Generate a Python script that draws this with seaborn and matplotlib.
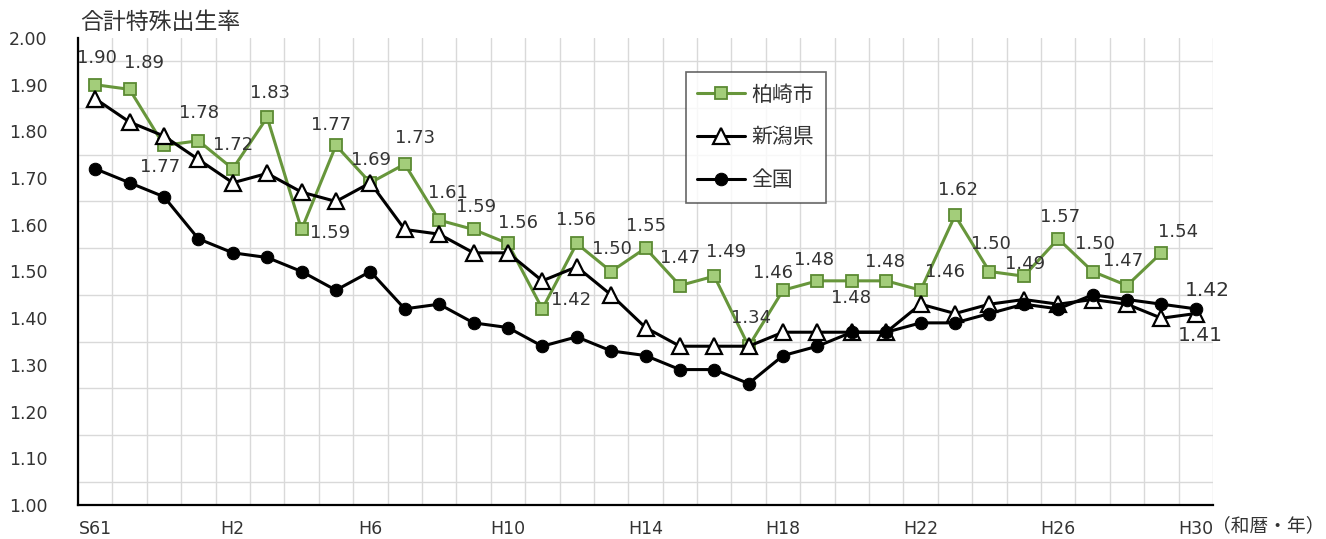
import numpy as np
import matplotlib
matplotlib.use("Agg")
import matplotlib.pyplot as plt
import seaborn as sns

# 年 (和暦)
years = ["S61", "S62", "S63"] + [f"H{i}" for i in range(1, 31)]
shown_ticks = ["S61", "H2", "H6", "H10", "H14", "H18", "H22", "H26", "H30"]

# 合計特殊出生率
kashiwazaki = [1.90, 1.89, 1.77, 1.78, 1.72, 1.83, 1.59, 1.77, 1.69, 1.73,
               1.61, 1.59, 1.56, 1.42, 1.56, 1.50, 1.55, 1.47, 1.49, 1.34,
               1.46, 1.48, 1.48, 1.48, 1.46, 1.62, 1.50, 1.49, 1.57, 1.50,
               1.47, 1.54]
niigata = [1.87, 1.82, 1.79, 1.74, 1.69, 1.71, 1.67, 1.65, 1.69, 1.59,
           1.58, 1.54, 1.54, 1.48, 1.51, 1.45, 1.38, 1.34, 1.34, 1.34,
           1.37, 1.37, 1.37, 1.37, 1.43, 1.41, 1.43, 1.44, 1.43, 1.44,
           1.43, 1.40, 1.41]
zenkoku = [1.72, 1.69, 1.66, 1.57, 1.54, 1.53, 1.50, 1.46, 1.50, 1.42,
           1.43, 1.39, 1.38, 1.34, 1.36, 1.33, 1.32, 1.29, 1.29, 1.26,
           1.32, 1.34, 1.37, 1.37, 1.39, 1.39, 1.41, 1.43, 1.42, 1.45,
           1.44, 1.43, 1.42]

# label offsets for 柏崎市 (pixels, up positive)
label_offsets = [(2, 27), (14, 26), (-4, -22), (1, 28), (0, 24), (3, 24), (29, -4),
                 (-5, 20), (1, 23), (10, 26), (9, 27), (3, 22), (10, 20), (29, 9),
                 (-1, 23), (1, 23), (1, 22), (0, 28), (12, 24), (2, 28), (-10, 17),
                 (-3, 21), (-1, -17), (-1, 19), (24, 18), (3, 25), (1, 28), (1, 12),
                 (2, 22), (2, 28), (-4, 25), (17, 21)]

sns.set_style("white")
plt.rcParams["font.family"] = ["DejaVu Sans", "Noto Sans CJK JP"]
JP = ["Noto Sans CJK JP", "DejaVu Sans"]
text_col = "#333333"
green_line = "#67963B"
green_face = "#A3CD7A"
green_edge = "#5B8A33"

fig = plt.figure(figsize=(13.26, 5.39), dpi=100)
ax = fig.add_axes([78 / 1326, 1 - 505 / 539, (1213 - 78) / 1326, (505 - 38) / 539])

x_all = np.arange(len(years))

sns.lineplot(x=x_all[:len(kashiwazaki)], y=kashiwazaki, ax=ax, color=green_line,
             linewidth=2.2, marker="s", markersize=8.5, markerfacecolor=green_face,
             markeredgecolor=green_edge, markeredgewidth=1.3, label="柏崎市", zorder=3)
sns.lineplot(x=x_all[:len(niigata)], y=niigata, ax=ax, color="black",
             linewidth=2.2, marker="^", markersize=11, markerfacecolor="white",
             markeredgecolor="black", markeredgewidth=1.6, label="新潟県", zorder=4)
sns.lineplot(x=x_all[:len(zenkoku)], y=zenkoku, ax=ax, color="black",
             linewidth=2.2, marker="o", markersize=9, markerfacecolor="black",
             markeredgecolor="black", label="全国", zorder=5)

# data labels
for i, v in enumerate(kashiwazaki):
    dx, dy = label_offsets[i]
    ax.annotate(f"{v:.2f}", xy=(x_all[i], v), xytext=(dx * 0.72, dy * 0.72),
                textcoords="offset points", ha="center", va="center",
                fontsize=13, color=text_col, zorder=6)
ax.annotate(f"{zenkoku[-1]:.2f}", xy=(x_all[len(zenkoku) - 1], zenkoku[-1]),
            xytext=(12 * 0.72, 18 * 0.72), textcoords="offset points",
            ha="center", va="center", fontsize=14.5, color=text_col)
ax.annotate(f"{niigata[-1]:.2f}", xy=(x_all[len(niigata) - 1], niigata[-1]),
            xytext=(5 * 0.72, -22 * 0.72), textcoords="offset points",
            ha="center", va="center", fontsize=14.5, color=text_col)

# axes
ax.set_xlim(-0.5, len(years) - 0.5)
ax.set_ylim(1.0, 2.0)
ax.set_yticks(np.arange(1.0, 2.001, 0.1))
ax.set_yticklabels([f"{t:.2f}" for t in np.arange(1.0, 2.001, 0.1)])
ax.set_yticks(np.arange(1.05, 2.0, 0.1), minor=True)
ax.set_xticks([years.index(t) for t in shown_ticks])
ax.set_xticklabels(shown_ticks)
ax.set_xticks(np.arange(-0.5, len(years), 1), minor=True)

ax.grid(False)
ax.grid(which="minor", color="#d9d9d9", linewidth=1)
ax.tick_params(axis="x", which="major", length=0, pad=11, labelsize=12.5, labelcolor=text_col)
ax.tick_params(axis="x", which="minor", length=6, width=1.5, direction="out", color="black")
ax.tick_params(axis="y", which="major", length=7, width=1.5, direction="out", pad=15,
               labelsize=12.5, labelcolor=text_col, color="black")
ax.tick_params(axis="y", which="minor", length=0)
for s in ["top", "right"]:
    ax.spines[s].set_visible(False)
for s in ["left", "bottom"]:
    ax.spines[s].set_color("black")
    ax.spines[s].set_linewidth(1.6)
ax.set_xlabel("")
ax.set_ylabel("")

leg = ax.legend(loc="upper left", bbox_to_anchor=(0.5357, 0.927), borderaxespad=0,
                frameon=True, fancybox=False, edgecolor="#404040",
                prop={"family": JP, "size": 15}, labelspacing=1.0,
                handlelength=2.3, handletextpad=0.3, borderpad=0.55)
leg.get_frame().set_linewidth(1.2)
for t in leg.get_texts():
    t.set_color(text_col)

fig.text(80 / 1326, 1 - 22 / 539, "合計特殊出生率", family=JP, fontsize=16.5,
         color=text_col, ha="left", va="center")
fig.text(1212 / 1326, 1 - 526 / 539, "（和暦・年）", family=JP, fontsize=13.5,
         color=text_col, ha="left", va="center")

fig.savefig("out.png", dpi=100)
